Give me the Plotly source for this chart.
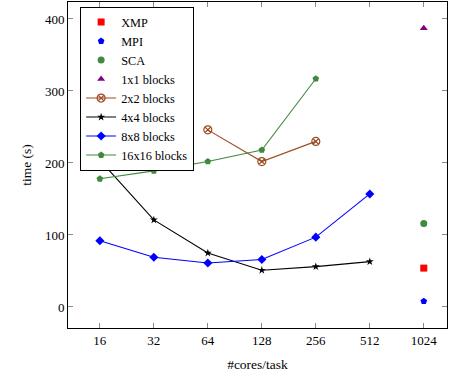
import plotly.graph_objects as go

cores = [16, 32, 64, 128, 256, 512, 1024]
tick_labels = [str(c) for c in cores]

xmp_x, xmp_y = [1024], [54]
mpi_x, mpi_y = [1024], [8]
sca_x, sca_y = [1024], [116]
b1_x, b1_y = [1024], [387]
b2_x, b2_y = [64, 128, 256], [246, 202, 230]
b4_x, b4_y = [16, 32, 64, 128, 256, 512], [204, 121, 75, 51, 56, 63]
b8_x, b8_y = [16, 32, 64, 128, 256, 512], [92, 69, 61, 66, 97, 157]
b16_x, b16_y = [16, 32, 64, 128, 256], [178, 189, 202, 218, 317]

def idx(xs):
    return [cores.index(v) for v in xs]

GREEN = "#3f8a3f"
BROWN = "#9c4a22"
fig = go.Figure()
fig.add_trace(go.Scatter(x=idx(xmp_x), y=xmp_y, mode="markers", name="XMP",
                         marker=dict(symbol="square", color="red", size=7)))
fig.add_trace(go.Scatter(x=idx(mpi_x), y=mpi_y, mode="markers", name="MPI",
                         marker=dict(symbol="pentagon", color="blue", size=7)))
fig.add_trace(go.Scatter(x=idx(sca_x), y=sca_y, mode="markers", name="SCA",
                         marker=dict(symbol="circle", color=GREEN, size=7)))
fig.add_trace(go.Scatter(x=idx(b1_x), y=b1_y, mode="markers", name="1x1 blocks",
                         marker=dict(symbol="triangle-up", color="purple", size=7)))
fig.add_trace(go.Scatter(x=idx(b2_x), y=b2_y, mode="lines+markers", name="2x2 blocks",
                         line=dict(color=BROWN, width=1.1),
                         marker=dict(symbol="circle-x-open", color=BROWN, size=8, line=dict(width=1.2))))
fig.add_trace(go.Scatter(x=idx(b4_x), y=b4_y, mode="lines+markers", name="4x4 blocks",
                         line=dict(color="black", width=1.1),
                         marker=dict(symbol="star", color="black", size=6)))
fig.add_trace(go.Scatter(x=idx(b8_x), y=b8_y, mode="lines+markers", name="8x8 blocks",
                         line=dict(color="blue", width=1.1),
                         marker=dict(symbol="diamond", color="blue", size=7)))
fig.add_trace(go.Scatter(x=idx(b16_x), y=b16_y, mode="lines+markers", name="16x16 blocks",
                         line=dict(color=GREEN, width=1.1),
                         marker=dict(symbol="pentagon", color=GREEN, size=7)))

font = "Liberation Serif"
fig.update_layout(
    width=449, height=373,
    margin=dict(l=68, r=2, t=2, b=45),
    plot_bgcolor="white", paper_bgcolor="white",
    font=dict(family=font, size=13, color="black"),
    showlegend=True,
    legend=dict(x=0.032, y=0.986, xanchor="left", yanchor="top",
                bgcolor="white", bordercolor="black", borderwidth=1,
                font=dict(family=font, size=12.3), tracegroupgap=0,
                itemwidth=30),
    xaxis=dict(tickmode="array", tickvals=list(range(len(cores))), ticktext=tick_labels,
               range=[-0.59, 6.43], showgrid=False, zeroline=False,
               showline=True, linecolor="black", linewidth=1, mirror="allticks",
               ticks="inside", ticklen=5, tickcolor="#888",
               title=dict(text="#cores/task", font=dict(size=13.5), standoff=12),
               tickfont=dict(size=13)),
    yaxis=dict(range=[-29.2, 423.6], tickvals=[0, 100, 200, 300, 400],
               showgrid=False, zeroline=False,
               showline=True, linecolor="black", linewidth=1, mirror="allticks",
               ticks="inside", ticklen=5, tickcolor="#888",
               title=dict(text="time (s)", font=dict(size=13.5), standoff=10),
               tickfont=dict(size=13)),
)
fig.write_html("out.html")
